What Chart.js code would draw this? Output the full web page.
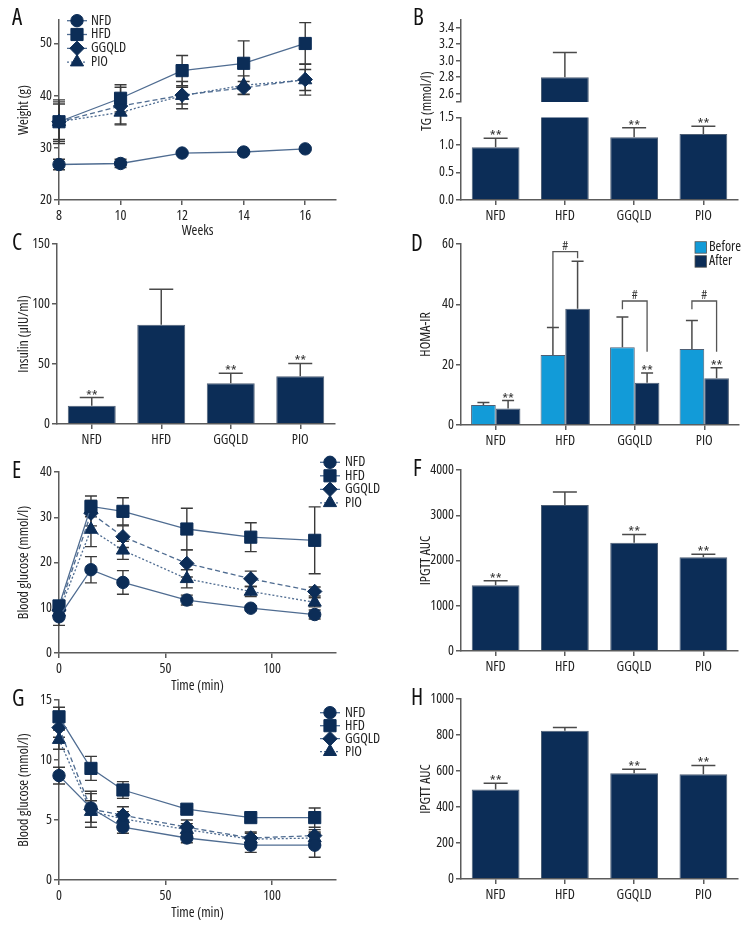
<!DOCTYPE html>
<html><head><meta charset="utf-8">
<script src="https://cdn.jsdelivr.net/npm/chart.js@4/dist/chart.umd.min.js"></script>
<style>
body{margin:0;background:#fff;}
#wrap{position:relative;width:756px;height:936px;overflow:hidden;background:#fff;}
canvas{position:absolute;}
.plbl{position:absolute;font-family:"Open Sans",sans-serif;font-stretch:condensed;font-size:23px;color:#111;line-height:1;}
</style></head><body><div id="wrap"></div>
<script>
// ---------- DATA ----------
const groups = ['NFD', 'HFD', 'GGQLD', 'PIO'];

// A: body weight
const weeks = [8, 10, 12, 14, 16];
const weightNFD = [26.8, 27.0, 29.0, 29.2, 29.8];
const weightNFDErr = [1.0, 0.8, 0.3, 0.3, 0.3];
const weightHFD = [35.0, 39.5, 44.8, 46.2, 50.0];
const weightHFDErr = [3.4, 2.6, 2.9, 4.3, 4.0];
const weightGGQLD = [35.0, 38.0, 40.1, 41.5, 43.1];
const weightGGQLDErr = [4.2, 3.6, 2.6, 1.2, 3.0];
const weightPIO = [35.0, 36.8, 40.0, 42.0, 43.0];
const weightPIOErr = [3.8, 2.2, 1.6, 1.8, 2.0];
const weightTicks = [20, 30, 40, 50];

// B: TG
const tgMean = [0.96, 2.80, 1.14, 1.20];
const tgErr = [0.16, 0.30, 0.17, 0.14];
const tgSig = ['**', '', '**', '**'];
const tgTicksLow = [0.0, 0.5, 1.0, 1.5];
const tgTicksHigh = [2.5, 2.6, 2.8, 3.0, 3.2, 3.4];

// C: insulin
const insulinMean = [15.3, 82.8, 33.9, 39.7];
const insulinErr = [6.7, 29.4, 8.3, 10.8];
const insulinSig = ['**', '', '**', '**'];
const insulinTicks = [0, 50, 100, 150];

// D: HOMA-IR
const homaBefore = [6.6, 23.2, 25.8, 25.2];
const homaBeforeErr = [0.9, 9.1, 10.0, 9.4];
const homaAfter = [5.5, 38.5, 14.0, 15.5];
const homaAfterErr = [2.6, 15.8, 3.2, 3.5];
const homaAfterSig = ['**', '', '**', '**'];
const homaTicks = [0, 20, 40, 60];
const bracketGroups = [1, 2, 3];
const bracketTop = [57.5, 41.1, 41.1];
const bracketLeftEnd = [32.5, 38.4, 38.4];
const bracketRightEnd = [55.3, 24.3, 24.3];

// E: IPGTT
const times = [0, 15, 30, 60, 90, 120];
const ipgttNFD = [8.0, 18.4, 15.6, 11.7, 9.9, 8.5];
const ipgttNFDErr = [1.9, 2.9, 2.6, 1.1, 0.5, 1.0];
const ipgttHFD = [10.4, 32.4, 31.3, 27.4, 25.6, 24.9];
const ipgttHFDErr = [0.8, 2.3, 3.0, 4.6, 3.2, 7.4];
const ipgttGGQLD = [9.5, 30.9, 25.7, 19.8, 16.4, 13.6];
const ipgttGGQLDErr = [1.0, 2.8, 2.4, 3.0, 1.7, 1.0];
const ipgttPIO = [9.0, 27.3, 22.7, 16.4, 13.6, 11.2];
const ipgttPIOErr = [1.0, 3.8, 2.0, 2.0, 1.1, 1.0];
const ipgttTicks = [0, 10, 20, 30, 40];
const timeTicks = [0, 50, 100];

// F: IPGTT AUC
const aucE = [1455, 3225, 2391, 2074];
const aucEErr = [95, 288, 185, 66];
const aucESig = ['**', '', '**', '**'];
const aucETicks = [0, 1000, 2000, 3000, 4000];

// G: ITT
const ittNFD = [8.7, 6.0, 4.4, 3.5, 2.9, 2.9];
const ittNFDErr = [0.7, 1.2, 0.5, 0.4, 0.6, 1.0];
const ittHFD = [13.6, 9.3, 7.5, 5.9, 5.2, 5.2];
const ittHFDErr = [0.8, 1.0, 0.7, 0.2, 0.3, 0.8];
const ittGGQLD = [12.7, 5.9, 5.4, 4.4, 3.5, 3.7];
const ittGGQLDErr = [0.8, 1.5, 0.7, 0.6, 0.5, 0.5];
const ittPIO = [11.7, 5.7, 5.1, 4.2, 3.4, 3.5];
const ittPIOErr = [0.8, 0.9, 0.6, 0.5, 0.5, 0.5];
const ittTicks = [0, 5, 10, 15];

// H: AUC
const aucG = [497, 824, 588, 582];
const aucGErr = [35, 18, 22, 49];
const aucGSig = ['**', '', '**', '**'];
const aucGTicks = [0, 200, 400, 600, 800, 1000];

// ---------- FONT: condensed Open Sans on every canvas text ----------
(function () {
  const proto = CanvasRenderingContext2D.prototype;
  const d = Object.getOwnPropertyDescriptor(proto, 'font');
  if (d && ('fontStretch' in proto)) {
    Object.defineProperty(proto, 'font', {
      configurable: true, enumerable: d.enumerable,
      get() { return d.get.call(this); },
      set(v) { d.set.call(this, v); try { this.fontStretch = 'condensed'; } catch (e) {} }
    });
  }
})();

// ---------- STYLE ----------
const FONT = '"Open Sans", sans-serif';
const NAVY = '#0c2d57', LIGHT = '#129bd8', LINE = '#4f6c91', AX = '#5c5c5c', ERR = '#3a3a3a';
Chart.defaults.font.family = FONT;
Chart.defaults.color = '#222';
Chart.defaults.animation = false;
const wrap = document.getElementById('wrap');

function val(d) { return (d !== null && typeof d === 'object') ? d.y : d; }

// ---------- PLUGINS ----------
const errPlugin = {
  id: 'errbars',
  beforeDatasetsDraw(chart, args, o) {
    if (!o || !o.mode) return;
    const ctx = chart.ctx, ys = chart.scales.y;
    chart.data.datasets.forEach((ds, i) => {
      if (!ds.errors) return;
      const meta = chart.getDatasetMeta(i);
      meta.data.forEach((el, j) => {
        const v = val(ds.data[j]), e = ds.errors[j];
        if (v == null || e == null || v < ys.min || v > ys.max) return;
        const yt = ys.getPixelForValue(v + e);
        const yb = o.mode === 'both' ? ys.getPixelForValue(v - e) : ys.getPixelForValue(v);
        ctx.save();
        ctx.strokeStyle = o.color || ERR; ctx.lineWidth = o.width || 1.5;
        ctx.beginPath();
        ctx.moveTo(el.x, yb); ctx.lineTo(el.x, yt);
        ctx.moveTo(el.x - o.cap, yt); ctx.lineTo(el.x + o.cap, yt);
        if (o.mode === 'both') { ctx.moveTo(el.x - o.cap, yb); ctx.lineTo(el.x + o.cap, yb); }
        ctx.stroke();
        ctx.restore();
      });
    });
  }
};

const sigPlugin = {
  id: 'sig',
  afterDatasetsDraw(chart) {
    const ctx = chart.ctx, ys = chart.scales.y;
    chart.data.datasets.forEach((ds, i) => {
      if (!ds.sig) return;
      const meta = chart.getDatasetMeta(i);
      meta.data.forEach((el, j) => {
        const s = ds.sig[j]; if (!s) return;
        const v = val(ds.data[j]) + (ds.errors ? ds.errors[j] : 0);
        if (v < ys.min || v > ys.max) return;
        ctx.save();
        ctx.font = '15px ' + FONT; ctx.fillStyle = '#333';
        ctx.textAlign = 'center'; ctx.textBaseline = 'alphabetic';
        ctx.fillText(s, el.x, ys.getPixelForValue(v) + 3);
        ctx.restore();
      });
    });
  }
};

const bracketPlugin = {
  id: 'brackets',
  afterDatasetsDraw(chart, args, o) {
    if (!o || !o.groups) return;
    const ctx = chart.ctx, ys = chart.scales.y;
    const m0 = chart.getDatasetMeta(0), m1 = chart.getDatasetMeta(1);
    o.groups.forEach((g, k) => {
      const xl = m0.data[g].x, xr = m1.data[g].x;
      const yt = ys.getPixelForValue(o.top[k]);
      ctx.save();
      ctx.strokeStyle = '#555'; ctx.lineWidth = 1.3;
      ctx.beginPath();
      ctx.moveTo(xl, ys.getPixelForValue(o.left[k]));
      ctx.lineTo(xl, yt); ctx.lineTo(xr, yt);
      ctx.lineTo(xr, ys.getPixelForValue(o.right[k]));
      ctx.stroke();
      ctx.font = '13px ' + FONT; ctx.fillStyle = '#333';
      ctx.textAlign = 'center'; ctx.textBaseline = 'alphabetic';
      ctx.fillText('#', (xl + xr) / 2, yt - 2);
      ctx.restore();
    });
  }
};

function drawMarker(ctx, style, r, x, y) {
  if (Chart.helpers && Chart.helpers.drawPoint) {
    Chart.helpers.drawPoint(ctx, {pointStyle: style, radius: r, rotation: 0, borderWidth: 1}, x, y);
  } else {
    ctx.beginPath(); ctx.arc(x, y, r, 0, Math.PI * 2); ctx.fill();
  }
}

const lineLegend = {
  id: 'lineLegend',
  afterDraw(chart, args, o) {
    if (!o || o.x == null) return;
    const ctx = chart.ctx, ox = chart.canvas._ox, oy = chart.canvas._oy;
    chart.data.datasets.forEach((ds, i) => {
      const x = o.x - ox, y = o.y - oy + i * o.dy;
      ctx.save();
      ctx.strokeStyle = ds.borderColor; ctx.lineWidth = ds.borderWidth;
      ctx.setLineDash(ds.borderDash || []);
      ctx.beginPath(); ctx.moveTo(x - o.half, y); ctx.lineTo(x + o.half, y); ctx.stroke();
      ctx.setLineDash([]);
      ctx.fillStyle = NAVY; ctx.strokeStyle = NAVY; ctx.lineWidth = 1;
      drawMarker(ctx, ds.pointStyle, ds.pointRadius, x, y);
      ctx.fillStyle = '#222'; ctx.font = '14px ' + FONT;
      ctx.textAlign = 'left'; ctx.textBaseline = 'middle';
      ctx.fillText(ds.label, o.tx - ox, y);
      ctx.restore();
    });
  }
};

const boxLegend = {
  id: 'boxLegend',
  afterDraw(chart, args, o) {
    if (!o || o.x == null) return;
    const ctx = chart.ctx, ox = chart.canvas._ox, oy = chart.canvas._oy;
    chart.data.datasets.forEach((ds, i) => {
      const x = o.x - ox, y = o.y - oy + i * o.dy;
      ctx.save();
      ctx.fillStyle = ds.backgroundColor; ctx.fillRect(x, y, o.size, o.size);
      ctx.strokeStyle = '#555'; ctx.lineWidth = 0.8; ctx.strokeRect(x, y, o.size, o.size);
      ctx.fillStyle = '#222'; ctx.font = '14px ' + FONT;
      ctx.textAlign = 'left'; ctx.textBaseline = 'middle';
      ctx.fillText(ds.label, o.tx - ox, y + o.size / 2);
      ctx.restore();
    });
  }
};

const freeText = {
  id: 'freeText',
  afterDraw(chart, args, o) {
    if (!o || !o.items) return;
    const ctx = chart.ctx, ox = chart.canvas._ox, oy = chart.canvas._oy;
    o.items.forEach(it => {
      ctx.save();
      ctx.translate(it.x - ox, it.y - oy);
      ctx.rotate(it.rot || 0);
      ctx.font = it.font; ctx.fillStyle = '#222';
      ctx.textAlign = 'center'; ctx.textBaseline = 'middle';
      ctx.fillText(it.text, 0, 0);
      ctx.restore();
    });
  }
};

Chart.register(errPlugin, sigPlugin, bracketPlugin, lineLegend, boxLegend, freeText);

// ---------- HELPERS ----------
function place(area, leftPad, PT, bottomExtra, PR) {
  const c = document.createElement('canvas');
  const left = area.l - leftPad, top = area.t - PT;
  const w = area.r - left + PR, h = area.b - top + bottomExtra;
  c.width = w; c.height = h;
  c.style.left = left + 'px'; c.style.top = top + 'px';
  c.style.width = w + 'px'; c.style.height = h + 'px';
  c._ox = left; c._oy = top;
  wrap.appendChild(c);
  return c;
}

function yAxis(o) {
  return {
    type: 'linear', position: 'left', min: o.min, max: o.max,
    afterBuildTicks: s => { s.ticks = o.ticks.map(v => ({value: v})); },
    afterFit: s => { s.width = o.width; },
    grid: {display: true, drawOnChartArea: false, drawTicks: true, tickLength: 5, color: AX, lineWidth: 1.5},
    border: {display: true, color: AX, width: 1.5},
    ticks: {font: {size: 14}, color: '#222', padding: 2, autoSkip: false, callback: o.fmt || (v => String(v))},
    title: {display: !!o.title, text: o.title || '', font: {size: 14}, color: '#222', padding: {top: o.titlePad || 16, bottom: 0}}
  };
}
function xCat(h, display) {
  return {
    type: 'category', offset: true, display: display !== false,
    afterFit: s => { s.height = h; },
    grid: {display: true, offset: false, drawOnChartArea: false, drawTicks: true, tickLength: 5, color: AX, lineWidth: 1.5},
    border: {display: true, color: AX, width: 1.5},
    ticks: {font: {size: 14}, color: '#222', padding: 3, maxRotation: 0, autoSkip: false}
  };
}
function xLin(o) {
  return {
    type: 'linear', position: 'bottom', min: o.min, max: o.max,
    afterBuildTicks: s => { s.ticks = o.ticks.map(v => ({value: v})); },
    afterFit: s => { s.height = o.height; },
    grid: {display: true, drawOnChartArea: false, drawTicks: true, tickLength: 5, color: AX, lineWidth: 1.5},
    border: {display: true, color: AX, width: 1.5},
    ticks: {font: {size: 14}, color: '#222', padding: 3, maxRotation: 0, autoSkip: false, callback: v => String(v)},
    title: {display: true, text: o.title, font: {size: 14}, color: '#222', padding: {top: 0, bottom: o.tpb}}
  };
}
const baseOpts = (PT, PR, PB) => ({
  responsive: false, devicePixelRatio: 1, animation: false, events: [],
  layout: {padding: {left: 0, top: PT, right: PR, bottom: PB || 0}},
});

const markers = {
  NFD: {s: 'circle', r: 6.2}, HFD: {s: 'rect', r: 8.6},
  GGQLD: {s: 'rectRot', r: 7.2}, PIO: {s: 'triangle', r: 7.6}
};
const dashes = {NFD: [], HFD: [], GGQLD: [5, 3], PIO: [2, 2]};
function lineDS(name, xs, ys, errs) {
  return {
    label: name, data: xs.map((x, i) => ({x: x, y: ys[i]})), errors: errs,
    borderColor: LINE, borderWidth: 1.3, borderDash: dashes[name],
    pointStyle: markers[name].s, pointRadius: markers[name].r,
    pointBackgroundColor: NAVY, pointBorderColor: NAVY, pointBorderWidth: 1,
    tension: 0, clip: false, fill: false
  };
}
function barDS(label, data, errs, sig, color) {
  return {
    label: label, data: data, errors: errs, sig: sig,
    backgroundColor: color, borderColor: '#4e5f75', borderWidth: 1, borderSkipped: 'start',
    clip: 0
  };
}

function lineChart(area, xCfg, yCfg, dsets, legend, PT, PR) {
  const XH = xCfg.height;
  const c = place(area, area.l, PT, XH, PR);
  new Chart(c, {
    type: 'line',
    data: {datasets: dsets},
    options: Object.assign(baseOpts(PT, PR), {
      scales: {x: xLin(xCfg), y: yAxis(Object.assign({width: area.l}, yCfg))},
      plugins: {legend: {display: false}, tooltip: {enabled: false},
        errbars: {mode: 'both', cap: 6, color: ERR, width: 1.4},
        lineLegend: legend}
    })
  });
}

function barChart(area, yCfg, dsets, extra) {
  extra = extra || {};
  const leftPad = extra.leftPad || 61, PT = extra.PT || 12, XH = extra.XH == null ? 30 : extra.XH, PR = extra.PR || 12;
  const c = place(area, leftPad, PT, XH + (extra.PB || 0), PR);
  const plugins = Object.assign({legend: {display: false}, tooltip: {enabled: false},
    errbars: {mode: 'up', cap: extra.cap || 12, color: '#4a4a4a', width: 1.5}}, extra.plugins || {});
  new Chart(c, {
    type: 'bar',
    data: {labels: groups, datasets: dsets},
    options: Object.assign(baseOpts(PT, PR, extra.PB || 0), {
      datasets: {bar: {barPercentage: extra.bp || 0.69, categoryPercentage: extra.cp || 1}},
      scales: {x: xCat(XH, extra.showX), y: yAxis(Object.assign({width: leftPad}, yCfg))},
      plugins: plugins
    })
  });
}

// ---------- PANEL A ----------
lineChart({l: 59, r: 336, t: 20, b: 200},
  {min: 8, max: 17, ticks: weeks, title: 'Weeks', height: 42, tpb: 2.5},
  {min: 20, max: 54.5, ticks: weightTicks, title: 'Weight (g)', titlePad: 16},
  [lineDS('NFD', weeks, weightNFD, weightNFDErr), lineDS('HFD', weeks, weightHFD, weightHFDErr),
   lineDS('GGQLD', weeks, weightGGQLD, weightGGQLDErr), lineDS('PIO', weeks, weightPIO, weightPIOErr)],
  {x: 77, y: 20.7, dy: 13.8, half: 10, tx: 91}, 12, 12);

// ---------- PANEL B (broken axis: two stacked charts) ----------
barChart({l: 461, r: 738, t: 19, b: 102},
  {min: 2.5, max: 3.5, ticks: tgTicksHigh, fmt: v => (v === 2.5 ? '' : v.toFixed(1)), titlePad: 18},
  [barDS('TG', tgMean, tgErr, null, NAVY)],
  {PT: 10, XH: 0, PB: 48, showX: false,
   plugins: {freeText: {items: [{text: 'TG (mmol/l)', x: 427, y: 101, rot: -Math.PI / 2, font: '14px ' + FONT}]}}});
barChart({l: 461, r: 738, t: 115, b: 200},
  {min: 0, max: 1.5, ticks: tgTicksLow, fmt: v => v.toFixed(1), titlePad: 18},
  [barDS('TG', tgMean, tgErr, tgSig, NAVY)],
  {PT: 8});

// ---------- PANEL C ----------
barChart({l: 57, r: 335, t: 244, b: 424},
  {min: 0, max: 150, ticks: insulinTicks, title: 'Insulin (\u00b5IU/ml)', titlePad: 16},
  [barDS('Insulin', insulinMean, insulinErr, insulinSig, NAVY)],
  {leftPad: 57, PT: 12});

// ---------- PANEL D ----------
barChart({l: 461, r: 739, t: 244, b: 425},
  {min: 0, max: 60, ticks: homaTicks, title: 'HOMA-IR', titlePad: 18},
  [barDS('Before', homaBefore, homaBeforeErr, null, LIGHT), barDS('After', homaAfter, homaAfterErr, homaAfterSig, NAVY)],
  {PT: 12, bp: 1, cp: 0.71, cap: 6,
   plugins: {brackets: {groups: bracketGroups, top: bracketTop, left: bracketLeftEnd, right: bracketRightEnd},
             boxLegend: {x: 695, y: 241.7, dy: 14, size: 11.5, tx: 709}}});

// ---------- PANEL E ----------
lineChart({l: 59, r: 336, t: 472, b: 653},
  {min: 0, max: 130, ticks: timeTicks, title: 'Time (min)', height: 42, tpb: 0.5},
  {min: 0, max: 40, ticks: ipgttTicks, title: 'Blood glucose (mmol/l)', titlePad: 16},
  [lineDS('NFD', times, ipgttNFD, ipgttNFDErr), lineDS('HFD', times, ipgttHFD, ipgttHFDErr),
   lineDS('GGQLD', times, ipgttGGQLD, ipgttGGQLDErr), lineDS('PIO', times, ipgttPIO, ipgttPIOErr)],
  {x: 330, y: 462.3, dy: 13.5, half: 10, tx: 345}, 20, 45);

// ---------- PANEL F ----------
barChart({l: 461, r: 738, t: 470, b: 651},
  {min: 0, max: 4000, ticks: aucETicks, title: 'IPGTT AUC', titlePad: 18},
  [barDS('AUC', aucE, aucEErr, aucESig, NAVY)], {PT: 12});

// ---------- PANEL G ----------
lineChart({l: 59, r: 336, t: 700, b: 880},
  {min: 0, max: 130, ticks: timeTicks, title: 'Time (min)', height: 42, tpb: 1},
  {min: 0, max: 15, ticks: ittTicks, title: 'Blood glucose (mmol/l)', titlePad: 16},
  [lineDS('NFD', times, ittNFD, ittNFDErr), lineDS('HFD', times, ittHFD, ittHFDErr),
   lineDS('GGQLD', times, ittGGQLD, ittGGQLDErr), lineDS('PIO', times, ittPIO, ittPIOErr)],
  {x: 330, y: 712.7, dy: 13, half: 10, tx: 345}, 14, 45);

// ---------- PANEL H ----------
barChart({l: 461, r: 738, t: 699, b: 879},
  {min: 0, max: 1000, ticks: aucGTicks, title: 'IPGTT AUC', titlePad: 18},
  [barDS('AUC', aucG, aucGErr, aucGSig, NAVY)], {PT: 12});

// ---------- PANEL LETTERS ----------
const panelLetters = [['A', 12, 5], ['B', 413, 5], ['C', 12, 230], ['D', 411, 231],
  ['E', 12, 458], ['F', 413, 456], ['G', 12, 686], ['H', 411, 685]];
panelLetters.forEach(p => {
  const d = document.createElement('div');
  d.className = 'plbl'; d.textContent = p[0];
  d.style.left = p[1] + 'px'; d.style.top = p[2] + 'px';
  wrap.appendChild(d);
});
</script></body></html>
